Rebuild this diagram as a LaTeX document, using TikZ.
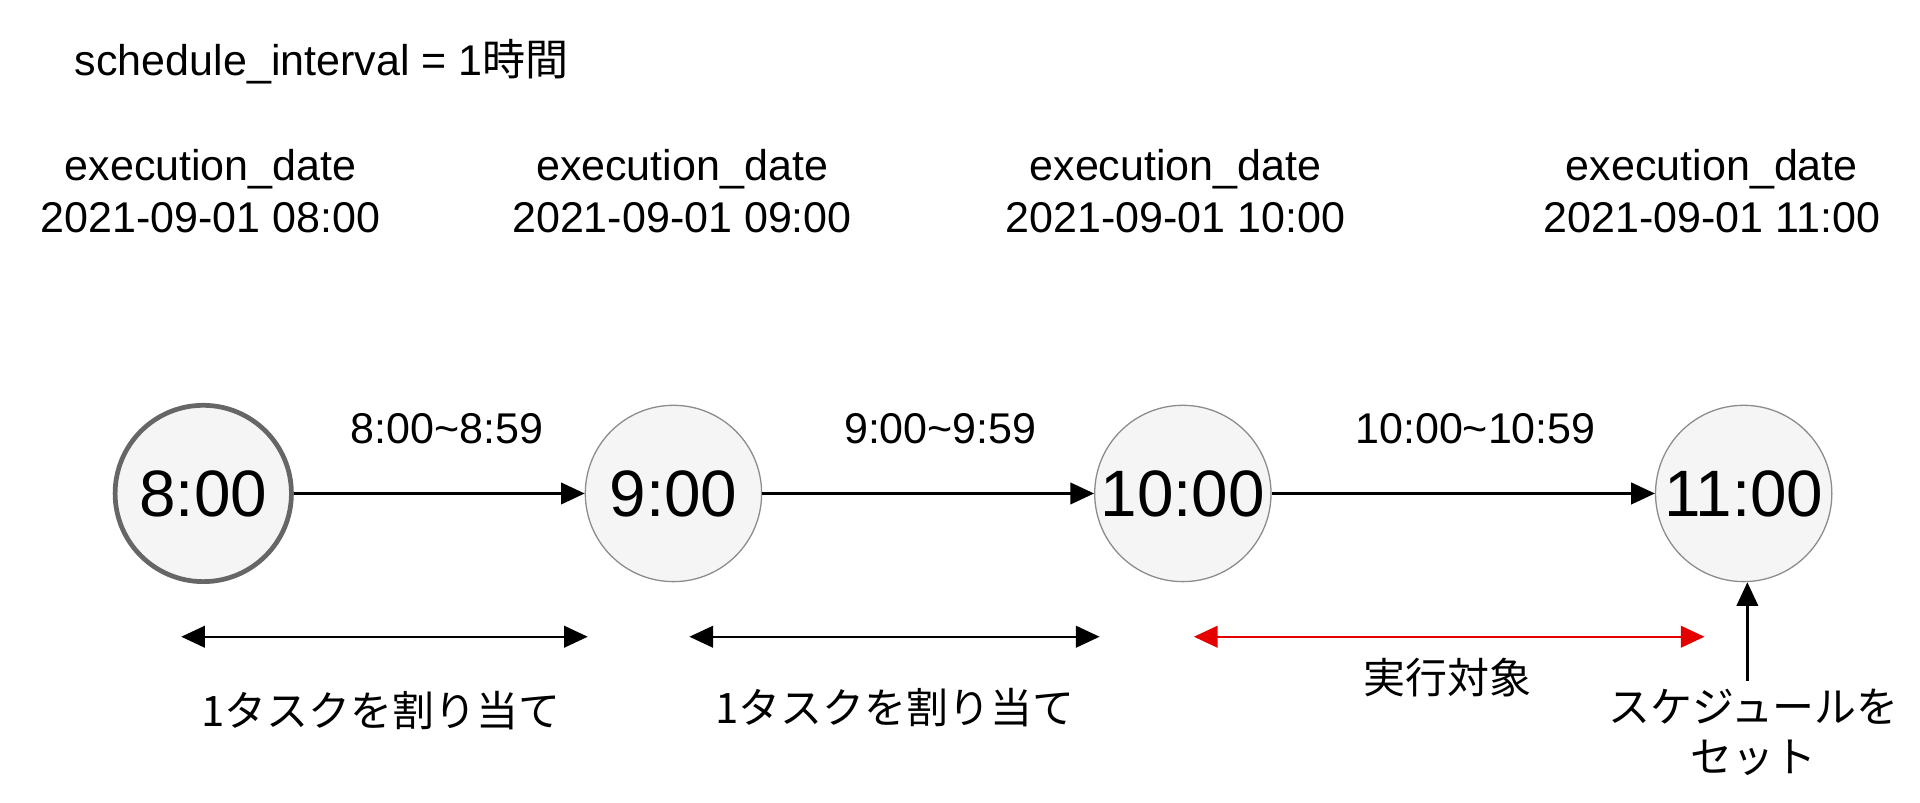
\documentclass[tikz,border=0pt]{standalone}
\usepackage{fontspec}
\setmainfont{Liberation Sans}
\newfontfamily\cjk{Noto Sans CJK JP}
\usetikzlibrary{arrows.meta}
\begin{document}
\begin{tikzpicture}[x=0.02cm,y=-0.02cm,
  lbl/.style={font=\fontsize{20}{24.5}\selectfont, align=center},
  jl/.style={font=\cjk\fontsize{19.5}{23}\selectfont, align=center},
  circ/.style={circle, draw=black!45, fill=black!4, minimum size=144*0.02cm, inner sep=0pt, font=\fontsize{30.5}{30}\selectfont, line width=0.6pt},
  arr/.style={-{Triangle[length=11pt,width=10pt]}, line width=1.1pt},
  darr/.style={{Triangle[length=11pt,width=10pt]}-{Triangle[length=11pt,width=10pt]}, line width=1.1pt}]
\useasboundingbox (0,0) rectangle (1568,655);
\node[lbl, anchor=west] (si) at (55,50) {schedule\_interval = 1{\cjk 時間}};
\node[lbl] (e1) at (172,156) {execution\_date\\2021-09-01 08:00};
\node[lbl] (e2) at (557,156) {execution\_date\\2021-09-01 09:00};
\node[lbl] (e3) at (960,156) {execution\_date\\2021-09-01 10:00};
\node[lbl] (e4) at (1398,156) {execution\_date\\2021-09-01 11:00};
\node[circ, draw=black!60, line width=2.2pt] (c1) at (166,403) {8:00};
\node[circ] (c2) at (550,403) {9:00};
\node[circ] (c3) at (966,403) {10:00};
\node[circ] (c4) at (1424,403) {11:00};
\draw[arr] (c1) -- (c2);
\draw[arr] (c2) -- (c3);
\draw[arr] (c3) -- (c4);
\node[lbl] (t1) at (365,350) {8:00\textasciitilde 8:59};
\node[lbl] (t2) at (768,350) {9:00\textasciitilde 9:59};
\node[lbl] (t3) at (1205,350) {10:00\textasciitilde 10:59};
\coordinate (a1) at (148,520); \coordinate (b1) at (480,520);
\coordinate (a2) at (563,520); \coordinate (b2) at (898,520);
\coordinate (a3) at (975,520); \coordinate (b3) at (1392,520);
\draw[darr] (a1) -- (b1);
\draw[darr] (a2) -- (b2);
\draw[darr, draw=red!90!black, fill=red!90!black] (a3) -- (b3);
\node[jl] (j1) at (311,580) {1タスクを割り当て};
\node[jl] (j2) at (731,578) {1タスクを割り当て};
\node[jl] (j3) at (1182,553) {実行対象};
\node[jl] (j4) at (1432,598) {スケジュールを\\セット};
\coordinate (u) at (1427,556);
\draw[arr] (u) -- (c4.south -| u);
\end{tikzpicture}
\end{document}
